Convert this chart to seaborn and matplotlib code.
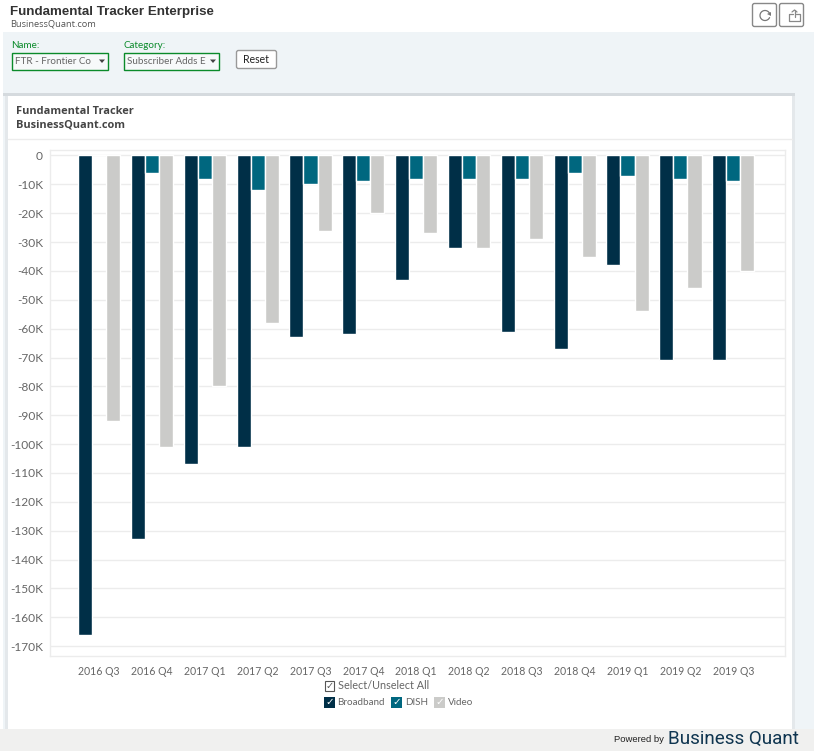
import pandas as pd
import seaborn as sns
import matplotlib.pyplot as plt
from matplotlib.patches import Rectangle, FancyBboxPatch, Arc, Polygon
from matplotlib.ticker import FuncFormatter

quarters = ['2016 Q3', '2016 Q4', '2017 Q1', '2017 Q2', '2017 Q3', '2017 Q4', '2018 Q1',
            '2018 Q2', '2018 Q3', '2018 Q4', '2019 Q1', '2019 Q2', '2019 Q3']
broadband = [-166, -133, -107, -101, -63, -62, -43, -32, -61, -67, -38, -71, -71]
dish = [0, -6, -8, -12, -10, -9, -8, -8, -8, -6, -7, -8, -9]
video = [-92, -101, -80, -58, -26, -20, -27, -32, -29, -35, -54, -46, -40]
yticks = list(range(0, -171, -10))

colors = {'Broadband': '#002f47', 'DISH': '#00677f', 'Video': '#cbcbc9'}

W, H = 814, 751

sns.set_theme(style='white')
plt.rcParams['font.family'] = ['Lato', 'DejaVu Sans']

fig = plt.figure(figsize=(W / 100, H / 100), dpi=100, facecolor='white')

# page furniture, drawn in pixel coordinates
bg = fig.add_axes([0, 0, 1, 1], zorder=0)
bg.set_xlim(0, W)
bg.set_ylim(H, 0)
bg.axis('off')

bg.add_patch(Rectangle((3, 32), 811, 700, fc='#eff4f7', ec='none'))
bg.add_patch(Rectangle((3, 93), 792, 3, fc='#d5dade', ec='none'))
bg.add_patch(Rectangle((792, 96), 3, 633, fc='#e4e8eb', ec='none'))
bg.add_patch(Rectangle((5, 96), 3, 633, fc='#e4e8eb', ec='none'))
bg.add_patch(Rectangle((8, 96), 784, 633, fc='white', ec='none'))
bg.add_patch(Rectangle((0, 729), W, 22, fc='#f0f0ef', ec='none'))
bg.plot([8, 792], [138.5, 138.5], color='#ececec', lw=1)

bg.text(10, 11.5, 'Fundamental Tracker Enterprise', fontsize=9.6, fontweight='bold',
        color='#333333', va='center', family='Liberation Sans')
bg.text(10, 24, 'BusinessQuant.com', fontsize=6.7, color='#555555', va='center', family='Open Sans')
bg.text(16, 112, 'Fundamental Tracker', fontsize=7.9, fontweight='bold', color='#444444',
        va='center', family='Open Sans')
bg.text(16, 125, 'BusinessQuant.com', fontsize=7.9, fontweight='bold', color='#444444',
        va='center', family='Open Sans')

# filter controls
for x, w, label, value in [(11.5, 96, 'Name:', 'FTR - Frontier Co'),
                           (123.5, 95, 'Category:', 'Subscriber Adds E')]:
    bg.text(x, 45, label, fontsize=7.1, color='#0a8a2a', va='center')
    bg.add_patch(Rectangle((x, 52.5), w, 17, fc='#f7f9fa', ec='none'))
    bg.text(x + 3.5, 61.5, value, fontsize=7.1, color='#666666', va='center')
    bg.add_patch(Rectangle((x + w - 15.5, 53), 15, 16, fc='#f7f9fa', ec='none'))
    bg.add_patch(Rectangle((x, 52.5), w, 17, fc='none', ec='#0a8a2a', lw=1))
    bg.add_patch(Polygon([(x + w - 8.5, 59.5), (x + w - 2.5, 59.5), (x + w - 5.5, 63)], fc='#444444', ec='none'))

bg.add_patch(FancyBboxPatch((236.5, 50.5), 40, 18, boxstyle='round,pad=0,rounding_size=2',
                            fc='white', ec='#999999', lw=1))
bg.text(256.5, 59.5, 'Reset', fontsize=7.6, color='#222222', ha='center', va='center')

# toolbar buttons
for x in [752.5, 779.5]:
    bg.add_patch(FancyBboxPatch((x, 3.5), 24, 23, boxstyle='round,pad=0,rounding_size=2',
                                fc='white', ec='#888888', lw=1))
bg.add_patch(Arc((765, 15.5), 10, 10, theta1=20, theta2=340, ec='#777777', lw=0.9))
bg.add_patch(Polygon([(767, 14), (771, 12), (771, 16)], fc='#777777', ec='none'))
bg.plot([793, 789, 789, 800, 800, 796], [14, 14, 20.5, 20.5, 14, 14], color='#888888', lw=0.9)
bg.plot([794.5, 794.5], [17, 10], color='#888888', lw=0.9)
bg.plot([792, 794.5, 797], [12, 10, 12], color='#888888', lw=0.9)

# chart
df = pd.DataFrame({'quarter': quarters, 'Broadband': broadband, 'DISH': dish, 'Video': video})
long_df = df.melt(id_vars='quarter', var_name='series', value_name='adds')

ax = fig.add_axes([50 / W, 1 - 656 / H, 735 / W, 506 / H], zorder=1)
sns.barplot(data=long_df, x='quarter', y='adds', hue='series', palette=colors, width=0.8,
            gap=0, saturation=1, legend=False, ax=ax)
ax.set_xlim(-0.93, 12.98)
ax.set_ylim(-173.4, 1.9)
ax.set_yticks(yticks)
ax.yaxis.set_major_formatter(FuncFormatter(lambda v, p: '0' if v == 0 else f'{int(v)}K'))
ax.set_xlabel('')
ax.set_ylabel('')
ax.set_axisbelow(True)
ax.grid(axis='y', color='#ececec', lw=1)
for s in ax.spines.values():
    s.set_color('#ececec')
    s.set_linewidth(1)
ax.tick_params(axis='x', length=0, labelsize=7.6, labelcolor='#666666', pad=7)
ax.tick_params(axis='y', length=0, labelsize=8.6, labelcolor='#666666', pad=5)

# checkbox legend
bg.add_patch(Rectangle((325, 680.5), 9, 10, fc='white', ec='#555555', lw=0.8))
bg.text(329.5, 686, '✓', fontsize=7, color='#555555', ha='center', va='center', family='DejaVu Sans')
bg.text(337.5, 685.5, 'Select/Unselect All', fontsize=7.8, color='#666666', va='center')
for x, name, tx in [(324, 'Broadband', 337.5), (391, 'DISH', 405), (434, 'Video', 448)]:
    bg.add_patch(Rectangle((x, 697), 11, 11, fc=colors[name], ec='none'))
    bg.text(x + 5.5, 702.5, '✓', fontsize=7.5, color='white', ha='center', va='center',
            family='DejaVu Sans')
    bg.text(tx, 702.5, name, fontsize=7.1, color='#666666', va='center')

# footer logo
bg.text(664, 740, 'Powered by', fontsize=6.8, color='#222222', ha='right', va='center',
        family='Liberation Sans')
bg.text(668, 738.5, 'Business Quant', fontsize=13.6, color='#0f3550', va='center', family='Roboto')

fig.savefig('out.png', dpi=100)
